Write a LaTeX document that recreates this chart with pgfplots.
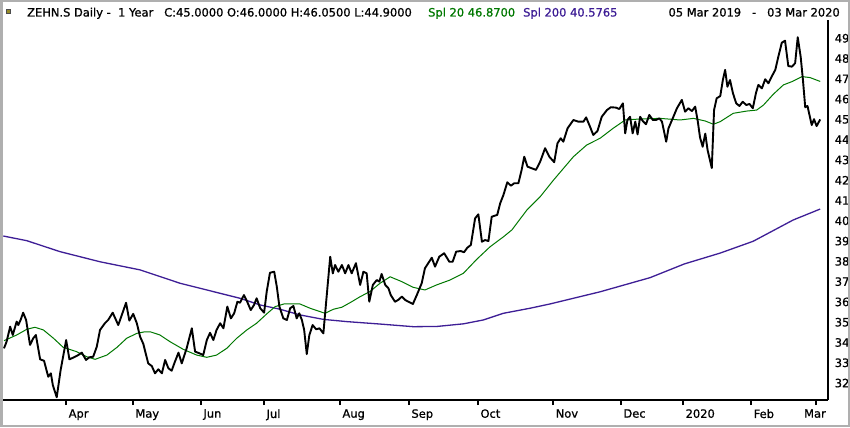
\documentclass[border=0pt]{standalone}
\usepackage{pgfplots}
\pgfplotsset{compat=1.18}
\usepackage{fontspec}
\setmainfont{DejaVu Sans}[FakeBold=0.9]
\definecolor{smagreen}{RGB}{0,120,0}
\definecolor{smapurple}{RGB}{62,30,150}
\definecolor{framegray}{RGB}{175,175,175}
\definecolor{iconolive}{RGB}{150,140,40}
\begin{document}
\begin{tikzpicture}[x=1bp,y=1bp]
\path[use as bounding box] (0,0) rectangle (850,427);
\fill[white] (0,0) rectangle (850,427);
\begin{axis}[
  at={(3bp,27bp)}, anchor=south west,
  scale only axis, width=825bp, height=380bp,
  xmin=0, xmax=253.4, ymin=31.165, ymax=49.90,
  axis x line*=bottom, axis y line*=right,
  axis line style={line width=2bp, black},
  every outer x axis line/.append style={-}, every outer y axis line/.append style={-},
  tick align=outside,
  xtick={19.4,39.9,60.8,80.2,103.5,124.7,145.9,169.0,189.8,208.9,229.8},
  xticklabels={Apr,May,Jun,Jul,Aug,Sep,Oct,Nov,Dec,2020,Feb},
  extra x ticks={249.7}, extra x tick labels={Mar},
  extra x tick style={xticklabel style={anchor=north, xshift=0bp}},
  xtick style={/pgfplots/major tick length=5bp, line width=1.5bp, black},
  xticklabel style={anchor=north west, xshift=-1bp, yshift=-1.5bp, font=\fontsize{11.5}{13}\selectfont},
  ytick={32,33,...,49},
  ytick style={draw=none},
  yticklabel style={anchor=west, xshift=-1bp, font=\fontsize{11.5}{13}\selectfont},
  /pgf/number format/assume math mode=true,
  clip=false,
]
% SMA 200
\addplot[smapurple, line width=1.3bp] coordinates {
(0.1,39.25) (7.3,39.02) (17.5,38.48) (29.8,37.98) (42.1,37.58) (54.4,36.92) (62.6,36.59)
(72.8,36.18) (79.0,35.85) (85.1,35.64) (91.2,35.36) (98.4,35.14) (105.6,35.03) (115.8,34.91)
(126.0,34.78) (133.2,34.79) (141.4,34.92) (147.5,35.11) (153.7,35.44) (161.9,35.69) (168.0,35.90)
(175.7,36.20) (183.4,36.50) (191.1,36.85) (198.8,37.20) (209.2,37.87) (220.3,38.41) (230.4,38.99)
(242.7,40.04) (251.0,40.58)
};
% SMA 20
\addplot[smagreen, line width=1bp] coordinates {
(0.3,34.09) (4.2,34.37) (7.3,34.65) (9.8,34.75) (12.4,34.62) (15.5,34.21) (18.5,33.76) (22.6,33.55)
(25.7,33.30) (28.3,33.17) (31.9,33.38) (35.0,33.76) (38.0,34.21) (41.1,34.45) (43.6,34.53) (45.2,34.53)
(48.2,34.37) (51.3,34.04) (55.4,33.66) (59.5,33.38) (62.6,33.27) (65.6,33.38) (68.7,33.71) (71.8,34.21)
(74.9,34.62) (77.9,34.95) (81.0,35.41) (83.6,35.77) (86.3,35.90) (88.2,35.90) (91.2,35.90) (94.3,35.69)
(98.9,35.44) (101.5,35.64) (104.1,35.74) (107.1,36.01) (109.7,36.26) (112.7,36.51) (115.8,36.92)
(118.9,37.24) (122.5,37.00) (126.0,36.72) (129.6,36.59) (133.2,36.84) (137.3,37.08) (141.4,37.41)
(145.5,38.10) (149.6,38.72) (153.7,39.21) (156.3,39.55) (160.9,40.53) (165.0,41.19) (169.1,42.01)
(172.6,42.67) (175.2,43.16) (179.3,43.74) (183.4,44.07) (187.4,44.56) (191.1,44.97) (195.7,45.02)
(201.8,45.05) (208.0,44.97) (212.1,45.05) (215.7,44.92) (218.2,44.76) (220.3,44.89) (224.3,45.30)
(228.4,45.41) (231.5,45.46) (233.6,45.71) (236.6,46.24) (239.7,46.70) (242.3,46.86) (245.4,47.11)
(247.9,47.06) (251.0,46.87)
};
% Price
\addplot[black, line width=1.9bp, line join=round] coordinates {
(0.3,33.71) (1.1,34.04) (2.2,34.78) (3.0,34.37) (4.2,35.03) (4.7,34.86) (5.4,35.11) (6.2,35.47)
(7.1,35.11) (8.3,33.88) (9.3,34.21) (10.1,34.37) (11.4,33.17) (12.6,33.10) (13.9,32.31) (14.7,32.48)
(15.3,31.90) (16.5,31.30) (17.7,32.64) (19.4,34.12) (20.4,33.17) (21.8,33.27) (23.1,33.38) (24.2,33.50)
(25.5,33.14) (26.5,33.27) (27.7,33.30) (28.8,33.79) (29.8,34.62) (31.3,34.95) (32.3,35.11) (33.7,35.47)
(35.4,34.86) (36.5,35.36) (37.8,35.96) (38.8,35.08) (40.0,35.41) (41.1,34.95) (42.1,34.29) (43.1,33.93)
(44.6,32.97) (45.7,32.84) (46.7,32.48) (47.7,32.68) (48.8,32.48) (49.8,33.14) (50.8,32.73) (51.8,32.61)
(52.8,33.05) (53.9,33.50) (54.9,32.97) (56.4,33.71) (58.0,34.70) (59.0,33.55) (60.3,33.47) (61.5,33.38)
(62.6,34.12) (63.6,34.48) (64.6,34.12) (65.6,34.62) (66.7,34.95) (67.7,34.70) (68.9,35.77) (70.0,35.19)
(71.0,35.44) (72.0,36.01) (72.8,35.96) (74.0,36.34) (75.0,36.01) (76.1,35.60) (77.1,35.85) (77.9,36.18)
(79.0,35.69) (80.2,35.47) (81.0,36.51) (82.0,37.44) (83.3,37.49) (84.1,36.75) (84.9,35.77) (86.1,35.19)
(87.2,35.11) (88.2,35.69) (89.2,35.80) (90.2,35.19) (91.0,35.44) (91.8,35.11) (92.5,34.62) (93.3,33.43)
(94.1,34.37) (95.1,34.86) (96.2,34.65) (97.2,34.70) (98.4,34.45) (98.9,35.36) (100.5,38.23) (101.3,37.41)
(102.0,37.82) (103.0,37.49) (104.1,37.82) (105.1,37.41) (106.1,37.82) (107.1,37.41) (108.4,37.91)
(109.7,36.84) (110.7,37.49) (111.7,37.41) (112.5,36.01) (113.6,36.84) (114.8,37.08) (115.6,37.00)
(116.3,37.38) (117.4,36.84) (118.4,36.67) (119.1,36.34) (120.4,36.01) (121.4,36.10) (122.5,36.26)
(123.5,36.10) (124.5,36.01) (125.9,35.90) (127.1,36.34) (128.6,36.92) (129.6,37.66) (131.7,38.18)
(132.7,37.74) (134.0,38.23) (135.5,38.40) (137.1,37.98) (138.1,37.98) (139.2,38.48) (140.6,38.51)
(141.6,38.45) (142.6,38.67) (143.7,38.81) (145.0,40.12) (146.0,40.32) (147.1,38.97) (148.1,39.05)
(149.1,39.00) (150.1,40.20) (151.8,40.29) (152.7,40.86) (153.7,41.27) (154.9,41.90) (156.0,41.73)
(157.0,41.85) (158.3,41.85) (159.3,42.51) (160.1,43.16) (161.1,42.67) (162.4,42.59) (163.7,42.51)
(165.0,42.92) (166.5,43.58) (167.8,43.16) (169.3,42.89) (170.3,43.82) (171.3,44.07) (172.1,43.90)
(173.4,44.56) (175.2,44.97) (176.7,44.89) (178.3,44.89) (179.1,45.10) (180.3,44.64) (181.3,44.23)
(182.6,44.43) (183.9,45.13) (185.5,45.46) (186.7,45.60) (188.3,45.58) (189.3,45.51) (190.4,45.79)
(191.1,44.31) (191.8,44.97) (192.6,45.13) (193.4,44.31) (194.2,44.89) (194.9,44.26) (195.7,45.13)
(196.5,44.92) (197.5,44.76) (198.5,45.22) (199.6,44.97) (200.6,44.97) (201.6,45.05) (202.4,44.89)
(203.7,43.90) (204.4,44.56) (205.7,45.05) (207.0,45.55) (208.5,45.96) (209.5,45.38) (210.5,45.55)
(211.6,45.41) (212.6,45.63) (213.4,44.90) (214.1,44.10) (214.9,43.65) (215.7,44.30) (216.4,43.50)
(217.7,42.60) (218.4,45.46) (219.2,46.04) (220.3,46.15) (221.1,46.94) (221.8,47.44) (222.5,46.61)
(223.3,46.94) (224.2,46.29) (225.2,45.79) (226.2,45.66) (227.2,45.87) (228.3,45.71) (229.3,45.76)
(230.3,45.55) (231.3,46.32) (232.0,46.70) (233.1,46.53) (234.1,46.98) (235.1,46.78) (236.1,47.11)
(237.2,47.44) (238.2,48.13) (239.2,48.78) (240.2,48.88) (241.2,47.63) (242.3,47.60) (243.3,47.77)
(244.1,49.05) (245.0,48.09) (245.7,46.94) (246.4,45.60) (247.1,45.66) (247.7,45.22) (248.4,44.72)
(249.1,45.01) (249.9,44.67) (251.0,45.00)
};
\end{axis}
% frame
\draw[framegray, line width=2.5bp] (1.25,1.25) rectangle (848.75,425.75);
% header
\fill[iconolive] (6,414) rectangle (10,418);
\draw[black!70, line width=0.5bp] (6,414) rectangle (10,418);
\node[anchor=base west, inner sep=0pt, font=\fontsize{11.5}{13}\selectfont] at (27,410.5)
  {ZEHN.S Daily -\ \ 1 Year\ \ \ C:45.0000 O:46.0000 H:46.0500 L:44.9000};
\node[anchor=base west, inner sep=0pt, text=smagreen, font=\fontsize{11.5}{13}\selectfont] at (428,410.5)
  {Spl 20 46.8700};
\node[anchor=base west, inner sep=0pt, text=smapurple, font=\fontsize{11.5}{13}\selectfont] at (523,410.5)
  {Spl 200 40.5765};
\node[anchor=base east, inner sep=0pt, font=\fontsize{11.5}{13}\selectfont] at (840,410.5)
  {05 Mar 2019\ \ \ -\ \ \ 03 Mar 2020};
\end{tikzpicture}
\end{document}
